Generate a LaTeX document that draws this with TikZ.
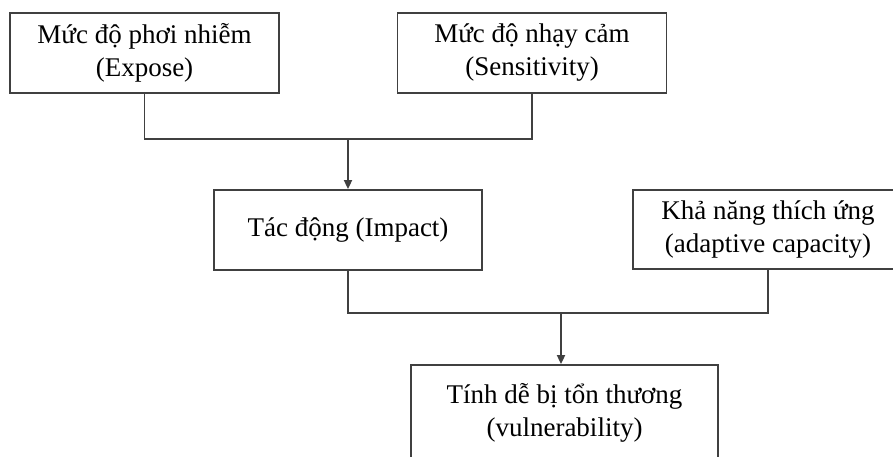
\documentclass[tikz,border=0pt]{standalone}
\usepackage{fontspec}
\setmainfont{Liberation Serif}
\usetikzlibrary{arrows.meta}
\begin{document}
\begin{tikzpicture}[x=1pt,y=1pt,
  box/.style={draw=black!75,line width=1.8pt,rectangle,minimum width=269pt,minimum height=80pt,align=center,font=\fontsize{27}{33}\selectfont},
  link/.style={draw=black!75,line width=1.8pt},
  arr/.style={link,-{Triangle[length=9pt,width=8pt]}}]
\useasboundingbox (0,0) rectangle (893,457);
\clip (0,0) rectangle (893,457);

% Top row
\node[box] (expo) at (144.5,404) {Mức độ phơi nhiễm\\(Expose)};
\node[box] (sens) at (532,404) {Mức độ nhạy cảm\\(Sensitivity)};

% Middle row
\node[box,minimum width=268pt] (imp) at (348,227) {Tác động (Impact)};
\node[box,minimum width=270pt,minimum height=79pt] (adapt) at (768,227.5) {Khả năng thích ứng\\(adaptive capacity)};

% Bottom
\node[box,minimum width=307pt,minimum height=96pt] (vuln) at (564.5,44) {Tính dễ bị tổn thương\\(vulnerability)};

% Exposure + sensitivity -> impact
\coordinate (j1) at (348,318);
\draw[link] (expo.south) |- (j1) -| (sens.south);
\draw[arr] (j1) -- (imp.north);

% Impact + adaptive capacity -> vulnerability
\coordinate (j2) at (561,144);
\draw[link] (imp.south) |- (j2) -| (adapt.south);
\draw[arr] (j2) -- (j2 |- vuln.north);
\end{tikzpicture}
\end{document}
